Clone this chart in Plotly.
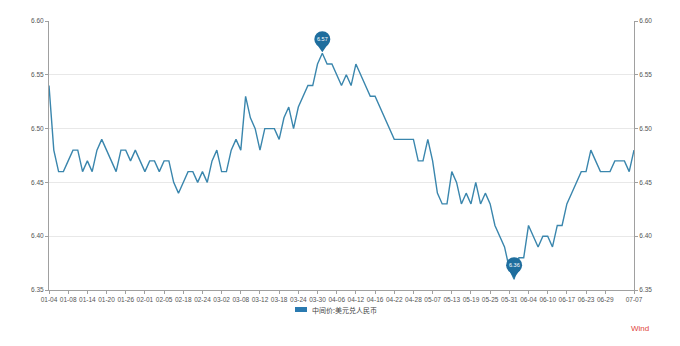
import plotly.graph_objects as go

# ---- data ----
dates = [
    "01-04", "01-05", "01-06", "01-07", "01-08", "01-11", "01-12", "01-13", "01-14", "01-15",
    "01-18", "01-19", "01-20", "01-21", "01-22", "01-25", "01-26", "01-27", "01-28", "01-29",
    "02-01", "02-02", "02-03", "02-04", "02-05", "02-08", "02-09", "02-10", "02-18", "02-19",
    "02-22", "02-23", "02-24", "02-25", "02-26",
    "03-01", "03-02", "03-03", "03-04", "03-05", "03-08", "03-09", "03-10", "03-11", "03-12",
    "03-15", "03-16", "03-17", "03-18", "03-19", "03-22", "03-23", "03-24", "03-25", "03-26",
    "03-29", "03-30", "03-31",
    "04-01", "04-02", "04-06", "04-07", "04-08", "04-09", "04-12", "04-13", "04-14", "04-15",
    "04-16", "04-19", "04-20", "04-21", "04-22", "04-23", "04-26", "04-27", "04-28", "04-29",
    "04-30",
    "05-06", "05-07", "05-10", "05-11", "05-12", "05-13", "05-14", "05-17", "05-18", "05-19",
    "05-20", "05-21", "05-24", "05-25", "05-26", "05-27", "05-28", "05-31",
    "06-01", "06-02", "06-03", "06-04", "06-07", "06-08", "06-09", "06-10", "06-11", "06-15",
    "06-16", "06-17", "06-18", "06-21", "06-22", "06-23", "06-24", "06-25", "06-28", "06-29",
    "06-30",
    "07-01", "07-02", "07-05", "07-06", "07-07",
]

usd_cny = [
    6.54, 6.48, 6.46, 6.46, 6.47, 6.48, 6.48, 6.46, 6.47, 6.46,
    6.48, 6.49, 6.48, 6.47, 6.46, 6.48, 6.48, 6.47, 6.48, 6.47,
    6.46, 6.47, 6.47, 6.46, 6.47, 6.47, 6.45, 6.44, 6.45, 6.46,
    6.46, 6.45, 6.46, 6.45, 6.47,
    6.48, 6.46, 6.46, 6.48, 6.49, 6.48, 6.53, 6.51, 6.50, 6.48,
    6.50, 6.50, 6.50, 6.49, 6.51, 6.52, 6.50, 6.52, 6.53, 6.54,
    6.54, 6.56, 6.57,
    6.56, 6.56, 6.55, 6.54, 6.55, 6.54, 6.56, 6.55, 6.54, 6.53,
    6.53, 6.52, 6.51, 6.50, 6.49, 6.49, 6.49, 6.49, 6.49, 6.47,
    6.47,
    6.49, 6.47, 6.44, 6.43, 6.43, 6.46, 6.45, 6.43, 6.44, 6.43,
    6.45, 6.43, 6.44, 6.43, 6.41, 6.40, 6.39, 6.37,
    6.36, 6.38, 6.38, 6.41, 6.40, 6.39, 6.40, 6.40, 6.39, 6.41,
    6.41, 6.43, 6.44, 6.45, 6.46, 6.46, 6.48, 6.47, 6.46, 6.46,
    6.46,
    6.47, 6.47, 6.47, 6.46, 6.48,
]

tick_labels = [
    "01-04", "01-08", "01-14", "01-20", "01-26", "02-01", "02-05", "02-18", "02-24", "03-02",
    "03-08", "03-12", "03-18", "03-24", "03-30", "04-06", "04-12", "04-16", "04-22", "04-28",
    "05-07", "05-13", "05-19", "05-25", "05-31", "06-04", "06-10", "06-17", "06-23", "06-29",
    "07-07",
]

y_ticks = [6.35, 6.40, 6.45, 6.50, 6.55, 6.60]
series_name = "中间价:美元兑人民币"

# ---- styles ----
LINE_COLOR = "#3a86ad"
PIN_COLOR = "#1f6e9e"
AXIS_COLOR = "#a0a0a0"
GRID_COLOR = "#e8e8e8"
TEXT_COLOR = "#555555"
FONT = "Liberation Sans, Noto Sans CJK SC, sans-serif"

fig = go.Figure()
fig.add_trace(go.Scatter(
    x=dates, y=usd_cny, mode="lines", name=series_name,
    line=dict(color=LINE_COLOR, width=1.4), showlegend=False,
    hoverinfo="x+y",
))
# invisible copy to activate right axis
fig.add_trace(go.Scatter(
    x=dates, y=usd_cny, mode="lines", yaxis="y2",
    line=dict(color="rgba(0,0,0,0)", width=0), showlegend=False, hoverinfo="skip",
))

shapes = []
annotations = []

# max / min pins
i_max = max(range(len(usd_cny)), key=lambda k: usd_cny[k])
i_min = min(range(len(usd_cny)), key=lambda k: usd_cny[k])
for idx in (i_max, i_min):
    xv, yv = dates[idx], usd_cny[idx]
    shapes.append(dict(
        type="path", xref="x", yref="y", xsizemode="pixel", ysizemode="pixel",
        xanchor=xv, yanchor=yv, path="M-5.5,9 L5.5,9 L0,1 Z",
        fillcolor=PIN_COLOR, line=dict(width=0), layer="above",
    ))
    shapes.append(dict(
        type="circle", xref="x", yref="y", xsizemode="pixel", ysizemode="pixel",
        xanchor=xv, yanchor=yv, x0=-8, x1=8, y0=6, y1=22,
        fillcolor=PIN_COLOR, line=dict(width=0), layer="above",
    ))
    annotations.append(dict(
        x=xv, y=yv, xref="x", yref="y", text=f"{yv:.2f}", showarrow=False,
        yshift=14, font=dict(size=5.5, color="white", family=FONT),
    ))

# manual legend (rect + text) below plot
shapes.append(dict(
    type="rect", xref="paper", yref="paper", x0=(295 - 49) / 585, x1=(307 - 49) / 585,
    y0=-(307 - 290) / 269, y1=-(312 - 290) / 269, fillcolor="#2a7ab0", line=dict(width=0),
))
annotations.append(dict(
    x=(310 - 49) / 585, y=-(309.5 - 290) / 269, xref="paper", yref="paper",
    xanchor="left", yanchor="middle", text=series_name, showarrow=False,
    font=dict(size=7, color="#444444", family="Noto Sans CJK SC, sans-serif"),
))
# source mark
annotations.append(dict(
    x=640, y=328, xref="paper", yref="paper", text="Wind", showarrow=False,
))
annotations[-1].update(dict(
    x=(640 - 49) / 585, y=-(328 - 290) / 269, xanchor="center", yanchor="middle",
    font=dict(size=8, color="#e0443c", family=FONT),
))

axis_common = dict(
    range=[6.35, 6.60], tickvals=y_ticks, tickformat=".2f",
    showline=True, linecolor=AXIS_COLOR, linewidth=1,
    ticks="outside", ticklen=3, tickcolor=AXIS_COLOR,
    tickfont=dict(size=6.5, color=TEXT_COLOR, family=FONT), zeroline=False,
)

fig.update_layout(
    width=680, height=346,
    margin=dict(l=49, r=46, t=21, b=56),
    paper_bgcolor="white", plot_bgcolor="white",
    showlegend=False,
    xaxis=dict(
        type="category", tickvals=tick_labels, ticktext=tick_labels, tickangle=0,
        showline=True, linecolor=AXIS_COLOR, linewidth=1,
        ticks="outside", ticklen=3, tickcolor=AXIS_COLOR, showgrid=False,
        tickfont=dict(size=6.5, color=TEXT_COLOR, family=FONT),
        range=[0, len(dates) - 1],
    ),
    yaxis=dict(**axis_common, showgrid=True, gridcolor=GRID_COLOR, gridwidth=1),
    yaxis2=dict(**axis_common, overlaying="y", side="right", showgrid=False),
    shapes=shapes,
    annotations=annotations,
)

fig.write_html("out.html")
